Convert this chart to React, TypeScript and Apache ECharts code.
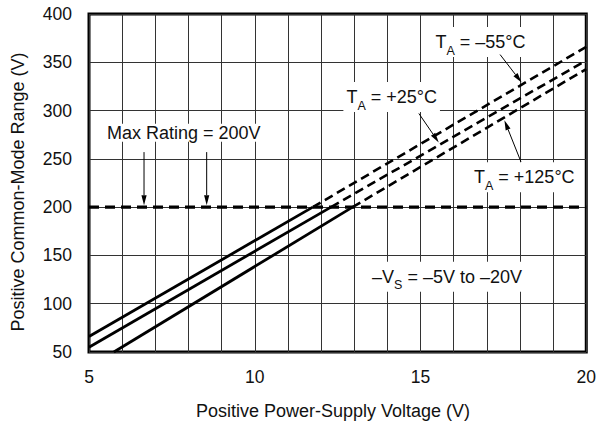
import React, { useEffect, useRef } from "react";
import * as echarts from "echarts";

// ---- data ----
const xTickLabels = [5, 10, 15, 20];
const yTickLabels = [50, 100, 150, 200, 250, 300, 350, 400];
const maxRatingLine = [[5, 200], [20, 200]];
const solidN55 = [[5, 66], [11.75, 200]];
const dashN55 = [[11.75, 200], [20, 366]];
const solidP25 = [[5, 55], [12.3, 200]];
const dashP25 = [[12.3, 200], [20, 352]];
const solidP125 = [[5.75, 50], [12.95, 200]];
const dashP125 = [[12.95, 200], [20, 343]];
const arrowFrom = [[6.66, 257], [8.55, 257], [17.4, 358], [14.95, 297], [18.03, 247]];
const arrowTo = [[6.66, 202], [8.55, 202], [18.05, 329], [15.55, 267], [17.53, 290]];
const noteText = ["Max Rating = 200V", "–55°C", "+25°C", "+125°C", "= –5V to –20V"];
const notePos = [[7.86, 277], [16.81, 371], [14.13, 314], [18.13, 231], [15.8, 128]];

const FONT = "'Liberation Sans', Arial, Helvetica, sans-serif";
const TXT = "#111";

export default function App() {
  const ref = useRef<HTMLDivElement>(null);
  useEffect(() => {
    if (!ref.current) return;
    const chart = echarts.init(ref.current, undefined, { renderer: "svg" });
    const solid = { color: "#000", width: 2.8, type: "solid" as const };
    const dashed = { color: "#000", width: 2.6, type: [9, 5] as any };
    const mkLine = (data: number[][], ls: any) => ({
      type: "line",
      data,
      symbol: "none",
      lineStyle: ls,
      z: 5,
      silent: true,
    });
    const sub = { fontSize: 12.5, padding: [17, 0, 0, 0], color: TXT, fontFamily: FONT };
    const main = { fontSize: 18, color: TXT, fontFamily: FONT };
    const noteFormatter = (i: number) => {
      if (i === 0) return `{m|${noteText[0]}}`;
      if (i === 4) return `{m|–V}{s|S}{m| ${noteText[4]}}`;
      return `{m|T}{s|A}{m| = ${noteText[i]}}`;
    };
    const axisTitles: any[] = [
      {
        type: "text",
        x: 18,
        y: 192,
        rotation: Math.PI / 2,
        style: {
          text: "Positive Common-Mode Range (V)",
          fontSize: 18,
          fontFamily: FONT,
          fill: TXT,
          align: "center",
          verticalAlign: "middle",
        },
      },
      {
        type: "text",
        x: 333,
        y: 411,
        style: {
          text: "Positive Power-Supply Voltage (V)",
          fontSize: 18,
          fontFamily: FONT,
          fill: TXT,
          align: "center",
          verticalAlign: "middle",
        },
      },
    ];
    chart.setOption({
      animation: false,
      textStyle: { fontFamily: FONT },
      grid: {
        left: 89,
        right: 11,
        top: 14,
        bottom: 73,
        show: true,
        borderColor: "#000",
        borderWidth: 3,
        backgroundColor: "#fff",
      },
      xAxis: {
        type: "value",
        min: 5,
        max: 20,
        interval: 1,
        axisLine: { show: false },
        axisTick: { show: false },
        splitLine: { show: true, lineStyle: { color: "#333", width: 1 } },
        axisLabel: {
          color: TXT,
          fontSize: 17.5,
          fontFamily: FONT,
          margin: 16,
          formatter: (v: number) => (xTickLabels.includes(v) ? String(v) : ""),
        },
      },
      yAxis: {
        type: "value",
        min: 50,
        max: 400,
        interval: 50,
        axisLine: { show: false },
        axisTick: { show: false },
        splitLine: { show: true, lineStyle: { color: "#333", width: 1 } },
        axisLabel: {
          color: TXT,
          fontSize: 17.5,
          fontFamily: FONT,
          margin: 17,
          formatter: (v: number) => (yTickLabels.includes(v) ? String(v) : ""),
        },
      },
      graphic: axisTitles,
      series: [
        {
          type: "line",
          data: maxRatingLine,
          symbol: "none",
          lineStyle: { color: "#000", width: 3.2, type: [10, 6] },
          z: 4,
          silent: true,
          markPoint: {
            silent: true,
            symbol: "circle",
            symbolSize: 0,
            itemStyle: { color: "transparent" },
            label: {
              show: true,
              position: "inside",
              backgroundColor: "#fff",
              padding: [0, 3, 0, 3],
              formatter: (p: any) => noteFormatter(p.dataIndex),
              rich: { m: main, s: sub },
            },
            data: notePos.map((c) => ({ coord: c })),
          },
        },
        mkLine(solidN55, solid),
        mkLine(dashN55, dashed),
        mkLine(solidP25, solid),
        mkLine(dashP25, dashed),
        mkLine(solidP125, solid),
        mkLine(dashP125, dashed),
      ],
    });

    // arrows: convert annotation data coordinates through the axes
    const arrows: any[] = [];
    arrowFrom.forEach((f, i) => {
      const a = chart.convertToPixel({ gridIndex: 0 }, f) as number[];
      const b = chart.convertToPixel({ gridIndex: 0 }, arrowTo[i]) as number[];
      const dx = b[0] - a[0];
      const dy = b[1] - a[1];
      const len = Math.sqrt(dx * dx + dy * dy);
      const ux = dx / len;
      const uy = dy / len;
      const hl = 10;
      const hw = 2.6;
      const bx = b[0] - ux * hl;
      const by = b[1] - uy * hl;
      arrows.push({
        type: "line",
        z: 20,
        silent: true,
        shape: { x1: a[0], y1: a[1], x2: bx, y2: by },
        style: { stroke: "#000", lineWidth: 1 },
      });
      arrows.push({
        type: "polygon",
        z: 20,
        silent: true,
        shape: {
          points: [
            [b[0], b[1]],
            [bx - uy * hw, by + ux * hw],
            [bx + uy * hw, by - ux * hw],
          ],
        },
        style: { fill: "#000" },
      });
    });
    chart.setOption({ graphic: axisTitles.concat(arrows) });
    return () => chart.dispose();
  }, []);
  return (
    <div
      ref={ref}
      style={{ position: "fixed", left: 0, top: 0, width: 599, height: 425, background: "#fff" }}
    />
  );
}
